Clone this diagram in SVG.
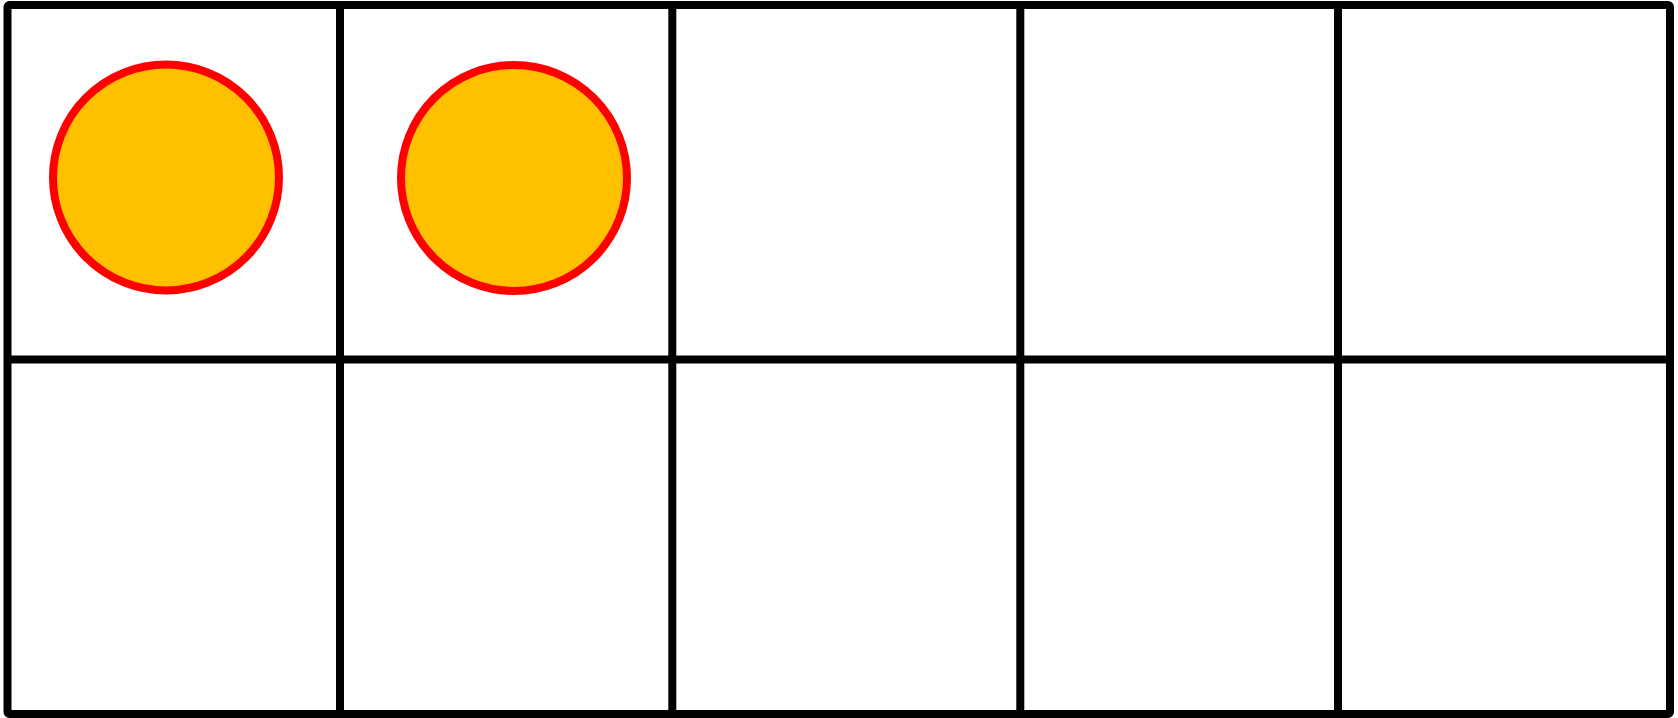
<svg xmlns="http://www.w3.org/2000/svg" width="1678" height="718" viewBox="0 0 1678 718">
<style>
.grid{fill:none;stroke:#000;stroke-width:8;stroke-linejoin:round;stroke-linecap:butt}
.counter{fill:#FFC000;stroke:#FF0000;stroke-width:8}
</style>
<rect width="1678" height="718" fill="#fff"/>
<g id="frame">
<rect class="grid" x="7.5" y="5" width="1662.5" height="709" rx="2"/>
<line class="grid" x1="7.5" y1="359.5" x2="1670" y2="359.5"/>
<line class="grid" x1="340" y1="5" x2="340" y2="714"/>
<line class="grid" x1="672.3" y1="5" x2="672.3" y2="714"/>
<line class="grid" x1="1020.3" y1="5" x2="1020.3" y2="714"/>
<line class="grid" x1="1338" y1="5" x2="1338" y2="714"/>
</g>
<g id="counter1"><circle class="counter" cx="166" cy="177.5" r="113"/></g>
<g id="counter2"><circle class="counter" cx="514" cy="178" r="113"/></g>
</svg>
